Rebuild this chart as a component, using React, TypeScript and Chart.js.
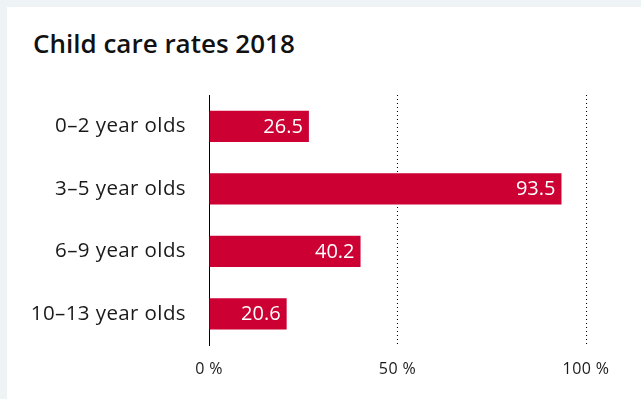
import React, { useEffect, useRef } from "react";
import { Chart, registerables } from "chart.js";

Chart.register(...registerables);

const categories = ["0–2 year olds", "3–5 year olds", "6–9 year olds", "10–13 year olds"];
const rates = [26.5, 93.5, 40.2, 20.6];
const tickValues = [0, 50, 100];
const title = "Child care rates 2018";

const FONT = "'Open Sans', Lato, sans-serif";
const BAR = "#cc0033";

const spacing = {
  id: "spacing",
  beforeDraw(chart: any) {
    (chart.ctx as any).letterSpacing = "0.4px";
  },
  afterDraw(chart: any) {
    (chart.ctx as any).letterSpacing = "0px";
  },
};

const valueLabels = {
  id: "valueLabels",
  afterDatasetsDraw(chart: any) {
    const ctx = chart.ctx;
    const meta = chart.getDatasetMeta(0);
    ctx.save();
    (ctx as any).letterSpacing = "0px";
    ctx.fillStyle = "#ffffff";
    ctx.font = `20px ${FONT}`;
    ctx.textAlign = "right";
    ctx.textBaseline = "middle";
    meta.data.forEach((el: any, i: number) => {
      ctx.fillText(rates[i].toFixed(1), el.x - 6, el.y + 1);
    });
    ctx.restore();
  },
};

export default function App() {
  const ref = useRef<HTMLCanvasElement>(null);
  useEffect(() => {
    if (!ref.current) return;
    const chart = new Chart(ref.current, {
      type: "bar",
      data: {
        labels: categories,
        datasets: [
          {
            data: rates,
            backgroundColor: BAR,
            borderWidth: 0,
            barPercentage: 0.5,
            categoryPercentage: 1,
          },
        ],
      },
      options: {
        indexAxis: "y",
        animation: false,
        responsive: false,
        maintainAspectRatio: false,
        layout: { padding: { left: 0, right: 55, top: 95, bottom: 0 } },
        plugins: {
          legend: { display: false },
          tooltip: { enabled: false },
          title: { display: false },
        },
        scales: {
          x: {
            min: 0,
            max: 100,
            afterBuildTicks: (scale: any) => {
              scale.ticks = tickValues.map((v) => ({ value: v }));
            },
            afterFit: (scale: any) => {
              scale.height = 54;
            },
            grid: {
              drawTicks: false,
              color: (c: any) => (c.tick && c.tick.value === 0 ? "rgba(0,0,0,0)" : "#000000"),
              lineWidth: 1,
            },
            border: { display: false, dash: [1, 3] },
            ticks: {
              padding: 15,
              color: "#1a1a1a",
              font: { family: FONT, size: 16 },
              callback: (v: any) => `${v} %`,
            },
          },
          y: {
            afterFit: (scale: any) => {
              scale.width = 209;
            },
            grid: { display: false, drawTicks: false },
            border: { display: true, color: "#000000", width: 1 },
            ticks: {
              padding: 23,
              color: "#1a1a1a",
              font: { family: FONT, size: 20.5 },
            },
          },
        },
      },
      plugins: [spacing, valueLabels],
    });
    return () => chart.destroy();
  }, []);

  return (
    <div style={{ position: "fixed", left: 0, top: 0, width: 641, height: 399, background: "#eef3f6", overflow: "hidden" }}>
      <div style={{ position: "absolute", left: 7, top: 7, right: 0, bottom: 0, background: "#ffffff" }} />
      <div
        style={{
          position: "absolute",
          left: 33,
          top: 28,
          fontFamily: FONT,
          fontWeight: 600,
          fontSize: 26,
          lineHeight: 1.2,
          color: "#111111",
          whiteSpace: "nowrap",
        }}
      >
        {title}
      </div>
      <canvas ref={ref} width={641} height={399} style={{ position: "absolute", left: 0, top: 0, width: 641, height: 399 }} />
    </div>
  );
}
